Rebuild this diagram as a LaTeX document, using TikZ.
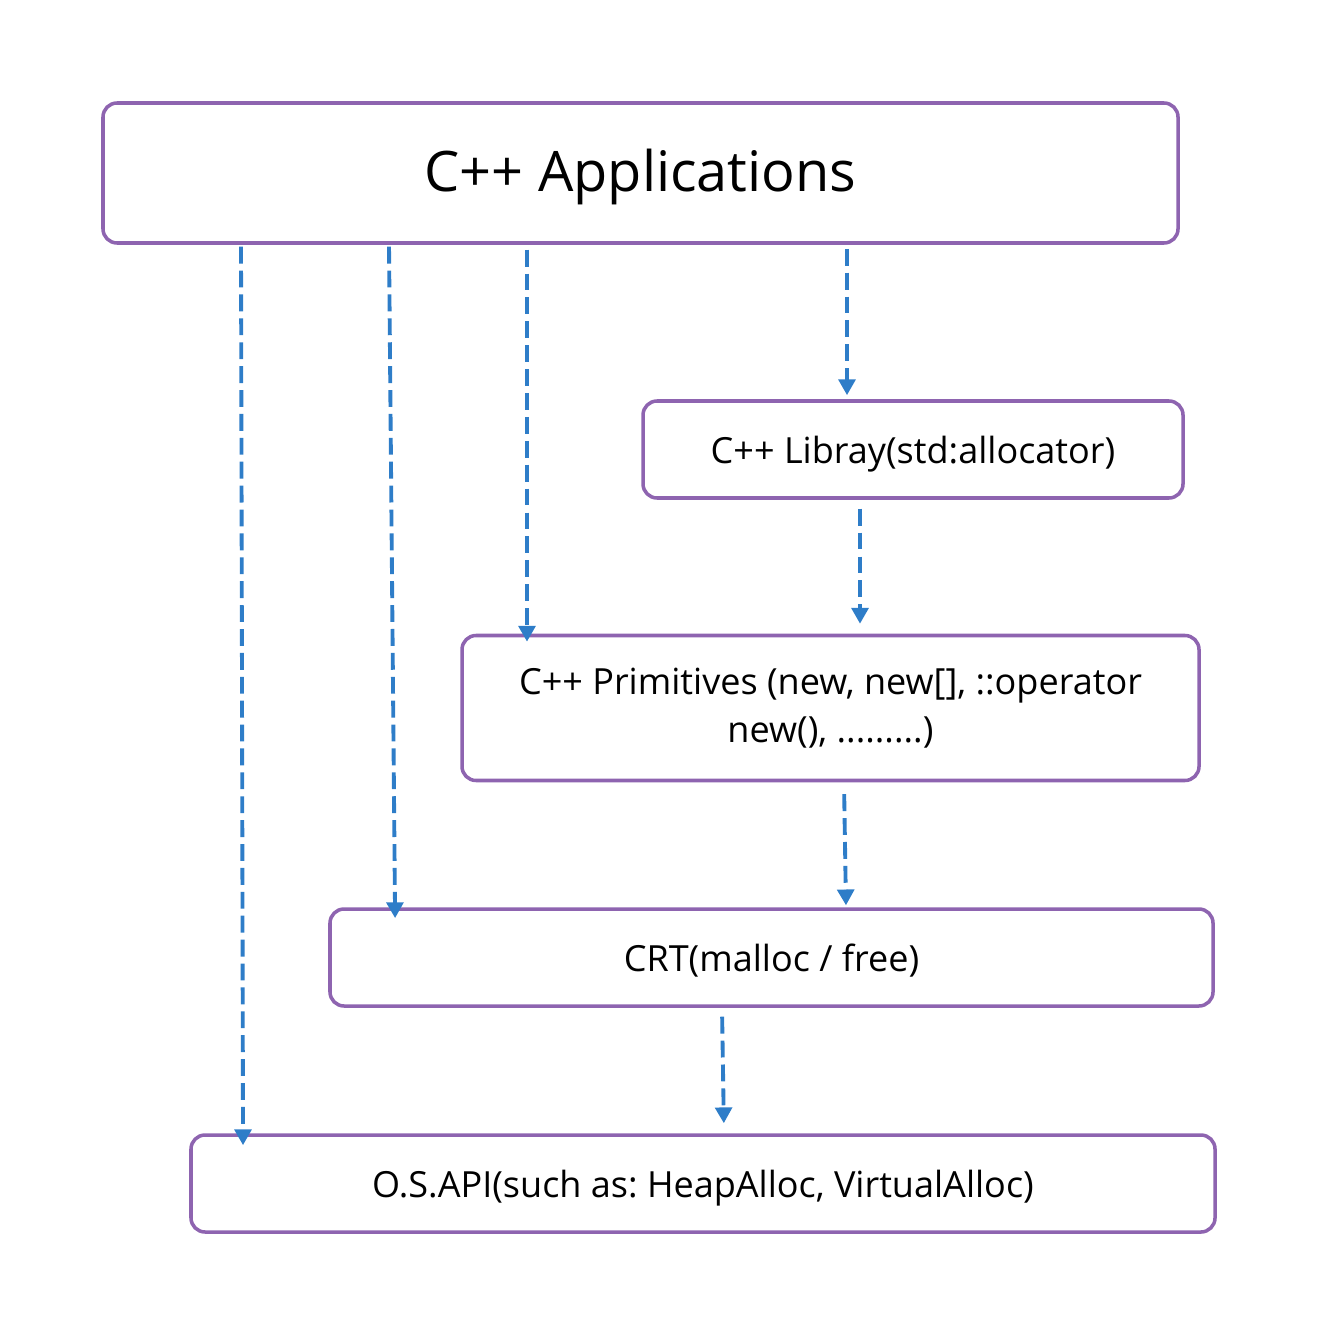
\documentclass[tikz,border=0pt]{standalone}
\usepackage{fontspec}
\setmainfont{Open Sans}
\frenchspacing
\usetikzlibrary{arrows.meta}
\definecolor{boxpurple}{RGB}{142,100,176}
\definecolor{flowblue}{RGB}{46,125,200}
\tikzstyle{layer} = [rectangle, rounded corners=8pt, draw=boxpurple, line width=2pt, text centered, inner sep=0pt]
\tikzstyle{oneline} = [text height=20.6pt, text depth=5pt]
\tikzstyle{flow} = [line width=2.2pt, draw=flowblue, dash pattern=on 9.6pt off 4pt, -{Triangle[width=9.5pt,length=9pt]}, flowblue]

\begin{document}
\begin{tikzpicture}[x=0.02cm, y=-0.02cm]
		\useasboundingbox (0,0) rectangle (1316,1334);

		% Layers
		\node (app) [layer, text height=27pt, text depth=5.5pt, minimum width=1075*0.02cm, minimum height=140*0.02cm, font=\fontsize{31.8}{38}\selectfont] at (640.5,173) {C++ Applications};
		\node (lib) [layer, oneline, minimum width=540*0.02cm, minimum height=97*0.02cm, font=\fontsize{20.5}{25}\selectfont] at (913,449.5) {C++ Libray(std:allocator)};
		\node (prim) [layer, minimum width=737*0.02cm, minimum height=145*0.02cm, font=\fontsize{20.5}{27}\selectfont, align=center] at (830.5,708) {C++ Primitives (new, new[], ::operator\\ new(), .........)};
		\node (crt) [layer, oneline, minimum width=883*0.02cm, minimum height=97*0.02cm, font=\fontsize{20.5}{25}\selectfont] at (771.5,957.5) {CRT(malloc / free)};
		\node (os) [layer, oneline, minimum width=1024*0.02cm, minimum height=97*0.02cm, font=\fontsize{20.5}{25}\selectfont] at (703,1183.5) {O.S.API(such as: HeapAlloc, VirtualAlloc)};

		% Calls from the application
		\draw [flow, shorten <=1.1pt, shorten >=-6.8pt] (app.south -| 241,0) -- (os.north -| 243,0);
		\draw [flow, shorten <=1.1pt, shorten >=-6.2pt] (app.south -| 389,0) -- (crt.north -| 395,0);
		\draw [flow, shorten <=2.8pt, shorten >=-4.5pt] (app.south -| 527,0) -- (prim.north -| 527,0);
		\draw [flow, shorten <=2.3pt, shorten >=2.3pt] (app.south -| 847,0) -- (lib.north -| 847,0);

		% Layer to layer
		\draw [flow, shorten <=5.1pt, shorten >=5.7pt] (lib.south -| 860,0) -- (prim.north -| 860,0);
		\draw [flow, shorten <=6.8pt, shorten >=1.1pt] (prim.south -| 844,0) -- (crt.north -| 846,0);
		\draw [flow, shorten <=5.1pt, shorten >=5.7pt] (crt.south -| 722,0) -- (os.north -| 724,0);

	\end{tikzpicture}
\end{document}
